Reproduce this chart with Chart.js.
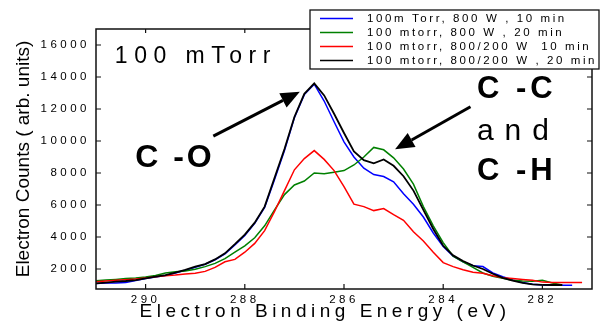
<!DOCTYPE html>
<html><head><meta charset="utf-8">
<script src="https://cdn.jsdelivr.net/npm/chart.js@4.4.0/dist/chart.umd.min.js"></script>
<style>html,body{margin:0;padding:0;background:#fff;}#wrap{width:605px;height:322px;}</style>
</head><body><div id="wrap"><canvas id="c" width="605" height="322"></canvas></div>
<script>
// ---- data ----
const energies = [291.0,290.8,290.6,290.4,290.2,290.0,289.8,289.6,289.4,289.2,289.0,288.8,288.6,288.4,288.2,288.0,287.8,287.6,287.4,287.2,287.0,286.8,286.6,286.4,286.2,286.0,285.8,285.6,285.4,285.2,285.0,284.8,284.6,284.4,284.2,284.0,283.8,283.6,283.4,283.2,283.0,282.8,282.6,282.4,282.2,282.0,281.8,281.6,281.4,281.2];
const blue10 = [1100,1120,1120,1150,1280,1400,1500,1600,1750,1920,2100,2300,2580,2950,3500,4100,4850,5850,7600,9400,11450,12900,13550,12500,11200,9950,9000,8300,7900,7780,7450,6700,6050,5250,4250,3400,2800,2450,2200,2150,1750,1520,1310,1150,1050,1000,980,980,980,null];
const green20 = [1270,1310,1350,1400,1440,1500,1600,1750,1830,1880,1980,2150,2350,2650,3050,3450,3950,4700,5700,6650,7250,7500,8000,7950,8050,8150,8500,9000,9600,9450,8950,8250,7300,5900,4700,3650,2800,2450,2100,1750,1550,1420,1300,1250,1230,1300,1130,1000,null,null];
const red10 = [1210,1250,1290,1330,1370,1440,1520,1580,1620,1680,1730,1850,2100,2450,2600,3050,3600,4400,5600,6900,8200,8900,9400,8850,8150,7150,6050,5900,5650,5780,5400,5040,4330,3750,3050,2400,2150,1950,1800,1740,1580,1460,1400,1350,1300,1180,1150,1150,1150,1150];
const black20 = [1100,1150,1210,1250,1310,1420,1520,1620,1770,1940,2150,2310,2600,2980,3550,4150,4900,5900,7700,9500,11500,12950,13600,12850,11700,10500,9350,8800,8600,8850,8450,7800,6900,5700,4500,3450,2850,2500,2220,2000,1700,1450,1270,1130,1040,1010,1000,1000,null,null];
const seriesLabels = ['100m Torr, 800 W , 10 min','100 mtorr, 800 W , 20 min','100 mtorr, 800/200 W  10 min','100 mtorr, 800/200 W , 20 min'];
const seriesColors = ['#0000ff','#008000','#ff0000','#000000'];
const xTicks = [290,288,286,284,282];
const yTicks = [2000,4000,6000,8000,10000,12000,14000,16000];

const FONT = "'Liberation Sans', Arial, sans-serif";
const series = [blue10, green20, red10, black20];

const datasets = series.map((s,i)=>({
  label: seriesLabels[i],
  data: energies.map((e,k)=>({x:e,y:s[k]})).filter(p=>p.y!==null),
  borderColor: seriesColors[i],
  borderWidth: i===3 ? 1.8 : 1.5,
  pointRadius: 0,
  tension: 0,
  fill: false,
  order: 3 - i
}));

const spacingPlugin = {
  id:'spacing',
  beforeDraw(chart){
    const conf = {x:{labels:'3.5px', title:'4.5px', dx:-19}, y:{labels:'3.5px', title:'0px', dx:0}};
    for (const id of ['x','y']) {
      const s = chart.scales[id];
      if (!s || s._wrapped) continue;
      s._wrapped = true;
      const sp = conf[id];
      const dl = s.drawLabels.bind(s), dt = s.drawTitle.bind(s);
      s.drawLabels = function(a){ const c=this.ctx; c.save(); c.letterSpacing=sp.labels; dl(a); c.restore(); };
      s.drawTitle = function(a){ const c=this.ctx; c.save(); c.translate(sp.dx,0); c.letterSpacing=sp.title; dt(a); c.restore(); };
    }
  }
};

function arrow(ctx, x1,y1,x2,y2){
  const ang = Math.atan2(y2-y1, x2-x1);
  const hl = 19, hw = 8;
  const bx = x2 - hl*Math.cos(ang), by = y2 - hl*Math.sin(ang);
  ctx.beginPath(); ctx.moveTo(x1,y1); ctx.lineTo(bx,by); ctx.lineWidth=3; ctx.strokeStyle='#000'; ctx.stroke();
  ctx.beginPath(); ctx.moveTo(x2,y2);
  ctx.lineTo(bx + hw*Math.sin(ang), by - hw*Math.cos(ang));
  ctx.lineTo(bx - hw*Math.sin(ang), by + hw*Math.cos(ang));
  ctx.closePath(); ctx.fillStyle='#000'; ctx.fill();
}

const decorPlugin = {
  id:'decor',
  afterDraw(chart){
    const ctx = chart.ctx, a = chart.chartArea, xs = chart.scales.x, ys = chart.scales.y;
    ctx.save();
    // frame
    ctx.strokeStyle='#111'; ctx.lineWidth=1.5;
    ctx.strokeRect(a.left, a.top, a.right-a.left, a.bottom-a.top);
    // inward ticks
    ctx.lineWidth=1.2; ctx.beginPath();
    xTicks.forEach(v=>{ const p=xs.getPixelForValue(v);
      ctx.moveTo(p,a.bottom); ctx.lineTo(p,a.bottom-5);
      ctx.moveTo(p,a.top); ctx.lineTo(p,a.top+4); });
    yTicks.forEach(v=>{ const p=ys.getPixelForValue(v);
      ctx.moveTo(a.left,p); ctx.lineTo(a.left+5,p);
      ctx.moveTo(a.right,p); ctx.lineTo(a.right-5,p); });
    ctx.stroke();
    // annotations
    const X = v=>xs.getPixelForValue(v), Y = v=>ys.getPixelForValue(v);
    ctx.fillStyle='#000'; ctx.textBaseline='alphabetic'; ctx.textAlign='left';
    ctx.font = `23px ${FONT}`; ctx.letterSpacing='6.5px';
    ctx.fillText('100 mTorr', X(290.62), Y(14875));
    ctx.font = `bold 32px ${FONT}`; ctx.letterSpacing='3px';
    ctx.fillText('C -O', X(290.21), Y(8375));
    ctx.font = `bold 31px ${FONT}`; ctx.letterSpacing='4px';
    ctx.fillText('C -C', X(283.32), Y(12690));
    ctx.fillText('C -H', X(283.32), Y(7560));
    ctx.font = `30px ${FONT}`; ctx.letterSpacing='11px';
    ctx.fillText('and', X(283.32), Y(10060));
    ctx.letterSpacing='0px';
    arrow(ctx, X(288.635), Y(10310), X(286.89), Y(13080));
    arrow(ctx, X(283.45), Y(12140), X(284.97), Y(9480));
    // legend box
    const lx=310, ly=10, lw=289, lh=59;
    ctx.fillStyle='#fff'; ctx.fillRect(lx,ly,lw,lh);
    ctx.strokeStyle='#111'; ctx.lineWidth=1.3; ctx.strokeRect(lx,ly,lw,lh);
    ctx.font = `11.5px ${FONT}`; ctx.letterSpacing='2.6px'; ctx.textBaseline='middle';
    chart.data.datasets.forEach((d,i)=>{
      const yy = 18.5 + i*14;
      ctx.beginPath(); ctx.moveTo(320,yy); ctx.lineTo(353,yy);
      ctx.strokeStyle=d.borderColor; ctx.lineWidth=1.6; ctx.stroke();
      ctx.fillStyle='#000'; ctx.fillText(d.label, 367, yy+0.5);
    });
    ctx.restore();
  }
};

new Chart(document.getElementById('c'), {
  type:'line',
  data:{datasets},
  options:{
    responsive:false, animation:false, devicePixelRatio:1,
    layout:{padding:{left:0, top:29, right:13, bottom:0}},
    plugins:{legend:{display:false}, tooltip:{enabled:false}},
    scales:{
      x:{type:'linear', reverse:true, min:281, max:291,
        grid:{display:false, drawTicks:false}, border:{display:false},
        ticks:{font:{family:FONT, size:11.5}, color:'#000', padding:4, maxRotation:0, autoSkip:false,
          callback:v=>String(v)},
        afterBuildTicks:s=>{ s.ticks = xTicks.map(v=>({value:v})); },
        afterFit:s=>{ s.height = 33; },
        title:{display:true, text:'Electron Binding Energy (eV)', color:'#000',
          font:{family:FONT, size:19, lineHeight:1}, padding:{top:0,bottom:0.5}}
      },
      y:{type:'linear', min:750, max:17000,
        grid:{display:false, drawTicks:false}, border:{display:false},
        ticks:{font:{family:FONT, size:11.5}, color:'#000', padding:6, callback:v=>String(v)},
        afterBuildTicks:s=>{ s.ticks = yTicks.map(v=>({value:v})); },
        afterFit:s=>{ s.width = 96; },
        title:{display:true, text:'Electron Counts ( arb. units)', color:'#000',
          font:{family:FONT, size:19, lineHeight:1}, padding:{top:14.5,bottom:0}}
      }
    }
  },
  plugins:[spacingPlugin, decorPlugin]
});
</script></body></html>
